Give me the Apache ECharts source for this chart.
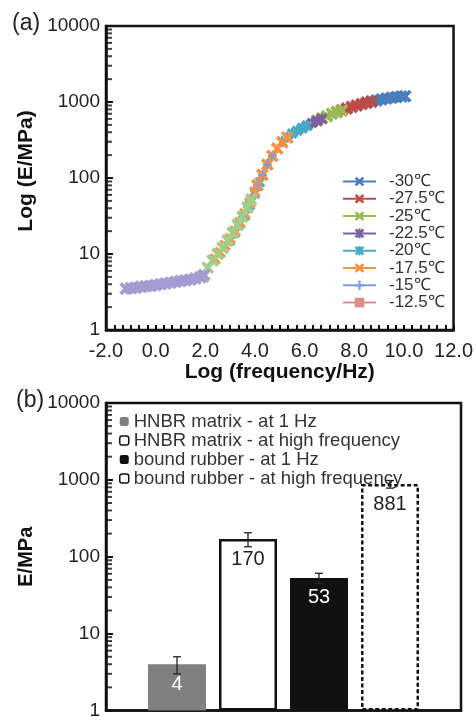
<!DOCTYPE html>
<html>
<head>
<meta charset="utf-8">
<script src="https://cdn.jsdelivr.net/npm/echarts@6/dist/echarts.min.js"></script>
<style>
  html, body { margin: 0; padding: 0; background: #fff; }
  #chart { width: 476px; height: 720px; }
</style>
</head>
<body>
<div id="chart"></div>
<script>
  // (a) 主曲线：各温度的数据点 [log f, E]
  const tempNames = ['-30℃', '-27.5℃', '-25℃', '-22.5℃', '-20℃', '-17.5℃', '-15℃', '-12.5℃']
  const tempColors = ['#4a7ebb', '#be4b48', '#98b954', '#7d60a0', '#46aac5', '#f69240', '#7f9fd6', '#d98e8c']
  const t30 = [[8.5, 980], [8.7, 1020], [8.9, 1050], [9.1, 1080], [9.3, 1110], [9.5, 1140], [9.7, 1160], [9.9, 1180], [10.05, 1190]]
  const t275 = [[7.3, 740], [7.5, 780], [7.7, 820], [7.9, 860], [8.1, 900], [8.3, 940], [8.5, 975], [8.7, 1010]]
  const t25 = [[6.5, 570], [6.7, 610], [6.9, 650], [7.1, 700], [7.3, 735], [7.5, 775]]
  const t225 = [[5.9, 455], [6.1, 490], [6.3, 530], [6.5, 565], [6.7, 600]]
  const t20 = [[5.1, 300], [5.3, 345], [5.5, 385], [5.7, 420], [5.9, 450], [6.1, 485]]
  const t175 = [[4.1, 80], [4.3, 110], [4.5, 150], [4.7, 195], [4.9, 245], [5.1, 295], [5.3, 340]]
  const t15 = [[3.5, 31], [3.7, 42], [3.9, 57], [4.1, 80], [4.3, 110], [4.5, 150], [4.7, 195]]
  const t125 = [[3.3, 24], [3.5, 31], [3.7, 42], [3.9, 57], [4.1, 79]]
  // 图例里没有的其他温度
  const extraTeal = [[3.0, 15], [3.2, 19], [3.4, 25], [3.6, 32], [3.8, 44], [4.0, 62], [4.2, 88]]
  const extraOrange = [[2.4, 8.6], [2.6, 10.5], [2.8, 13], [3.0, 16], [3.2, 20], [3.4, 26], [3.6, 34], [3.8, 47], [4.0, 66]]
  const extraGreen = [[1.9, 5.0], [2.1, 6.6], [2.3, 8.2], [2.5, 10], [2.7, 12], [2.9, 15], [3.1, 19], [3.3, 24], [3.5, 31], [3.7, 41], [3.85, 52]]
  const extraLavender = [[-1.2, 3.5], [-1.0, 3.55], [-0.8, 3.6], [-0.6, 3.7], [-0.4, 3.75], [-0.2, 3.8], [0, 3.9], [0.2, 4.0], [0.4, 4.1], [0.6, 4.2], [0.8, 4.3], [1.0, 4.4], [1.2, 4.5], [1.4, 4.6], [1.6, 4.75], [1.8, 4.95], [1.95, 5.3]]
  const tempData = [t30, t275, t25, t225, t20, t175, t15, t125]

  // (b) 柱状图
  const barNames = ['HNBR matrix - at 1 Hz', 'HNBR matrix - at high frequency', 'bound rubber - at 1 Hz', 'bound rubber - at high frequency']
  const barValues = [4, 170, 53, 881]
  const barErrors = [1, 35, 8, 100]

  // 对数轴的次刻度
  const logMinorTicks = [2, 3, 4, 5, 6, 7, 8, 9, 20, 30, 40, 50, 60, 70, 80, 90, 200, 300, 400, 500, 600, 700, 800, 900, 2000, 3000, 4000, 5000, 6000, 7000, 8000, 9000]

  const font = '"Liberation Sans", Arial, sans-serif'
  const tickColor = '#111'
  const xMark = 'path://M0,2 L2,0 L5,3 L8,0 L10,2 L7,5 L10,8 L8,10 L5,7 L2,10 L0,8 L3,5 Z'
  const starMark = 'path://M0,2 L2,0 L5,3 L8,0 L10,2 L7,5 L10,8 L8,10 L5,7 L2,10 L0,8 L3,5 Z M3.9,0 L6.1,0 L6.1,10 L3.9,10 Z'
  const plusMark = 'path://M3.8,0 H6.2 V3.8 H10 V6.2 H6.2 V10 H3.8 V6.2 H0 V3.8 H3.8 Z'
  const tempSymbols = [xMark, xMark, xMark, starMark, starMark, xMark, plusMark, 'rect']
  const tempSizes = [13, 13, 13, 11, 11, 13, 9, 6]

  const chart = echarts.init(document.getElementById('chart'))

  function lineSeries(name, data, color, symbol, size) {
    return {
      name: name,
      type: 'line',
      xAxisIndex: 0,
      yAxisIndex: 0,
      data: data,
      symbol: symbol,
      symbolSize: size,
      showSymbol: true,
      itemStyle: { color: color },
      lineStyle: { color: color, width: 3 },
      emphasis: { disabled: true },
    }
  }

  const series = []
  series.push(lineSeries('teal-x', extraTeal, '#4fb0c8', starMark, 11))
  series.push(lineSeries('orange-x', extraOrange, '#f59a52', xMark, 12))
  tempData.forEach((d, i) => {
    series.push(lineSeries(tempNames[i], d, tempColors[i], tempSymbols[i], tempSizes[i]))
  })
  series.push(lineSeries('green-x', extraGreen, '#a3ce8a', xMark, 13))
  series.push(lineSeries('lavender-x', extraLavender, '#a49bd2', xMark, 13))

  // 对数轴次刻度（画在左边框内侧）
  series.push({
    type: 'scatter', xAxisIndex: 0, yAxisIndex: 0, silent: true, clip: false, z: 20,
    data: logMinorTicks.map((v) => [-2, v]),
    symbol: 'rect', symbolSize: [6, 2], symbolOffset: [3, 0],
    itemStyle: { color: tickColor },
  })
  series.push({
    type: 'scatter', xAxisIndex: 1, yAxisIndex: 1, silent: true, clip: false, z: 20,
    data: logMinorTicks.map((v) => [0, v]),
    symbol: 'rect', symbolSize: [6, 2], symbolOffset: [3, 0],
    itemStyle: { color: tickColor },
  })

  // 柱子
  const barStyles = [
    { color: '#808080' },
    { color: '#ffffff', borderColor: '#111', borderWidth: 2.5 },
    { color: '#111111' },
    { color: '#ffffff', borderColor: '#111', borderWidth: 2.5, borderType: [4, 2.5] },
  ]
  const barLabelColors = ['#ffffff', '#222', '#ffffff', '#222']
  barNames.forEach((name, i) => {
    series.push({
      name: name,
      type: 'bar',
      xAxisIndex: 1,
      yAxisIndex: 1,
      data: [[i + 1, barValues[i]]],
      barWidth: 58,
      barGap: '-100%',
      itemStyle: barStyles[i],
      label: {
        show: true,
        position: 'insideTop',
        distance: 10,
        fontSize: 20,
        fontFamily: font,
        color: barLabelColors[i],
      },
      emphasis: { disabled: true },
    })
  })

  // 误差线
  series.push({
    type: 'custom',
    xAxisIndex: 1,
    yAxisIndex: 1,
    silent: true,
    z: 10,
    data: barValues.map((v, i) => [i + 1, v - barErrors[i], v + barErrors[i]]),
    encode: { x: 0, y: [1, 2] },
    renderItem: (params, api) => {
      const lo = api.coord([api.value(0), api.value(1)])
      const hi = api.coord([api.value(0), api.value(2)])
      const w = 4
      const st = { stroke: '#222', lineWidth: 1.3 }
      return {
        type: 'group',
        children: [
          { type: 'line', shape: { x1: lo[0], y1: lo[1], x2: hi[0], y2: hi[1] }, style: st },
          { type: 'line', shape: { x1: lo[0] - w, y1: lo[1], x2: lo[0] + w, y2: lo[1] }, style: st },
          { type: 'line', shape: { x1: hi[0] - w, y1: hi[1], x2: hi[0] + w, y2: hi[1] }, style: st },
        ],
      }
    },
  })

  const option = {
    animation: false,
    backgroundColor: '#fff',
    textStyle: { fontFamily: font },
    grid: [
      { left: 106, top: 26, width: 350, height: 304, show: true, borderColor: '#111', borderWidth: 2.5 },
      { left: 106, top: 403, width: 355, height: 318, show: true, borderColor: '#111', borderWidth: 2.5 },
    ],
    xAxis: [
      {
        gridIndex: 0, type: 'value', min: -2, max: 12, interval: 2,
        axisLine: { onZero: false, lineStyle: { color: '#111', width: 2.5 } },
        axisTick: { show: true, inside: true, length: 5, lineStyle: { color: tickColor, width: 2 } },
        minorTick: { show: true, splitNumber: 6, length: 5, lineStyle: { color: tickColor, width: 2 } },
        splitLine: { show: false },
        axisLabel: { fontSize: 20, fontFamily: font, color: '#222', margin: 11, formatter: (v) => v.toFixed(1) },
        name: 'Log (frequency/Hz)', nameLocation: 'middle', nameGap: 31,
        nameTextStyle: { fontSize: 21, fontWeight: 'bold', fontFamily: font, color: '#111' },
      },
      {
        gridIndex: 1, type: 'value', min: 0, max: 5,
        axisLine: { onZero: false, lineStyle: { color: '#111', width: 2.5 } },
        axisTick: { show: false }, axisLabel: { show: false },
        splitLine: { show: false },
      },
    ],
    yAxis: [
      {
        gridIndex: 0, type: 'log', logBase: 10, min: 1, max: 10000,
        axisLine: { onZero: false, lineStyle: { color: '#111', width: 2.5 } },
        axisTick: { show: true, inside: true, length: 7, lineStyle: { color: tickColor, width: 2 } },
        splitLine: { show: false },
        axisLabel: { margin: 6, fontSize: 19, fontFamily: font, color: '#222', formatter: (v) => String(v) },
        name: 'Log (E/MPa)', nameLocation: 'middle', nameGap: 48,
        nameTextStyle: { fontSize: 21, fontWeight: 'bold', fontFamily: font, color: '#111', padding: [0, 0, 0, 14] },
      },
      {
        gridIndex: 1, type: 'log', logBase: 10, min: 1, max: 10000,
        axisLine: { onZero: false, lineStyle: { color: '#111', width: 2.5 } },
        axisTick: { show: true, inside: true, length: 7, lineStyle: { color: tickColor, width: 2 } },
        splitLine: { show: false },
        axisLabel: { margin: 6, fontSize: 19, fontFamily: font, color: '#222', formatter: (v) => String(v) },
        name: 'E/MPa', nameLocation: 'middle', nameGap: 53,
        nameTextStyle: { fontSize: 20, fontWeight: 'bold', fontFamily: font, color: '#111' },
      },
    ],
    legend: [
      {
        data: tempNames,
        orient: 'vertical',
        left: 342,
        top: 173,
        padding: 0,
        itemWidth: 33,
        itemHeight: 12,
        itemGap: 0.3,
        selectedMode: false,
        textStyle: { fontSize: 17, lineHeight: 17, fontFamily: font, color: '#333', padding: [0, 0, 0, 8] },
      },
      {
        data: barNames.map((n) => ({ name: n, itemStyle: { borderWidth: 1.5 } })),
        orient: 'vertical',
        left: 119,
        top: 412,
        padding: 0,
        itemWidth: 9,
        itemHeight: 9,
        itemGap: 0,
        selectedMode: false,
        textStyle: { fontSize: 18.5, lineHeight: 18.5, fontFamily: font, color: '#333' },
      },
    ],
    graphic: [
      { type: 'text', left: 12, top: 12, style: { text: '(a)', fontSize: 23, fontFamily: font, fill: '#222' } },
      { type: 'text', left: 16, top: 389, style: { text: '(b)', fontSize: 23, fontFamily: font, fill: '#222' } },
    ],
    series: series,
  }

  chart.setOption(option)
</script>
</body>
</html>
